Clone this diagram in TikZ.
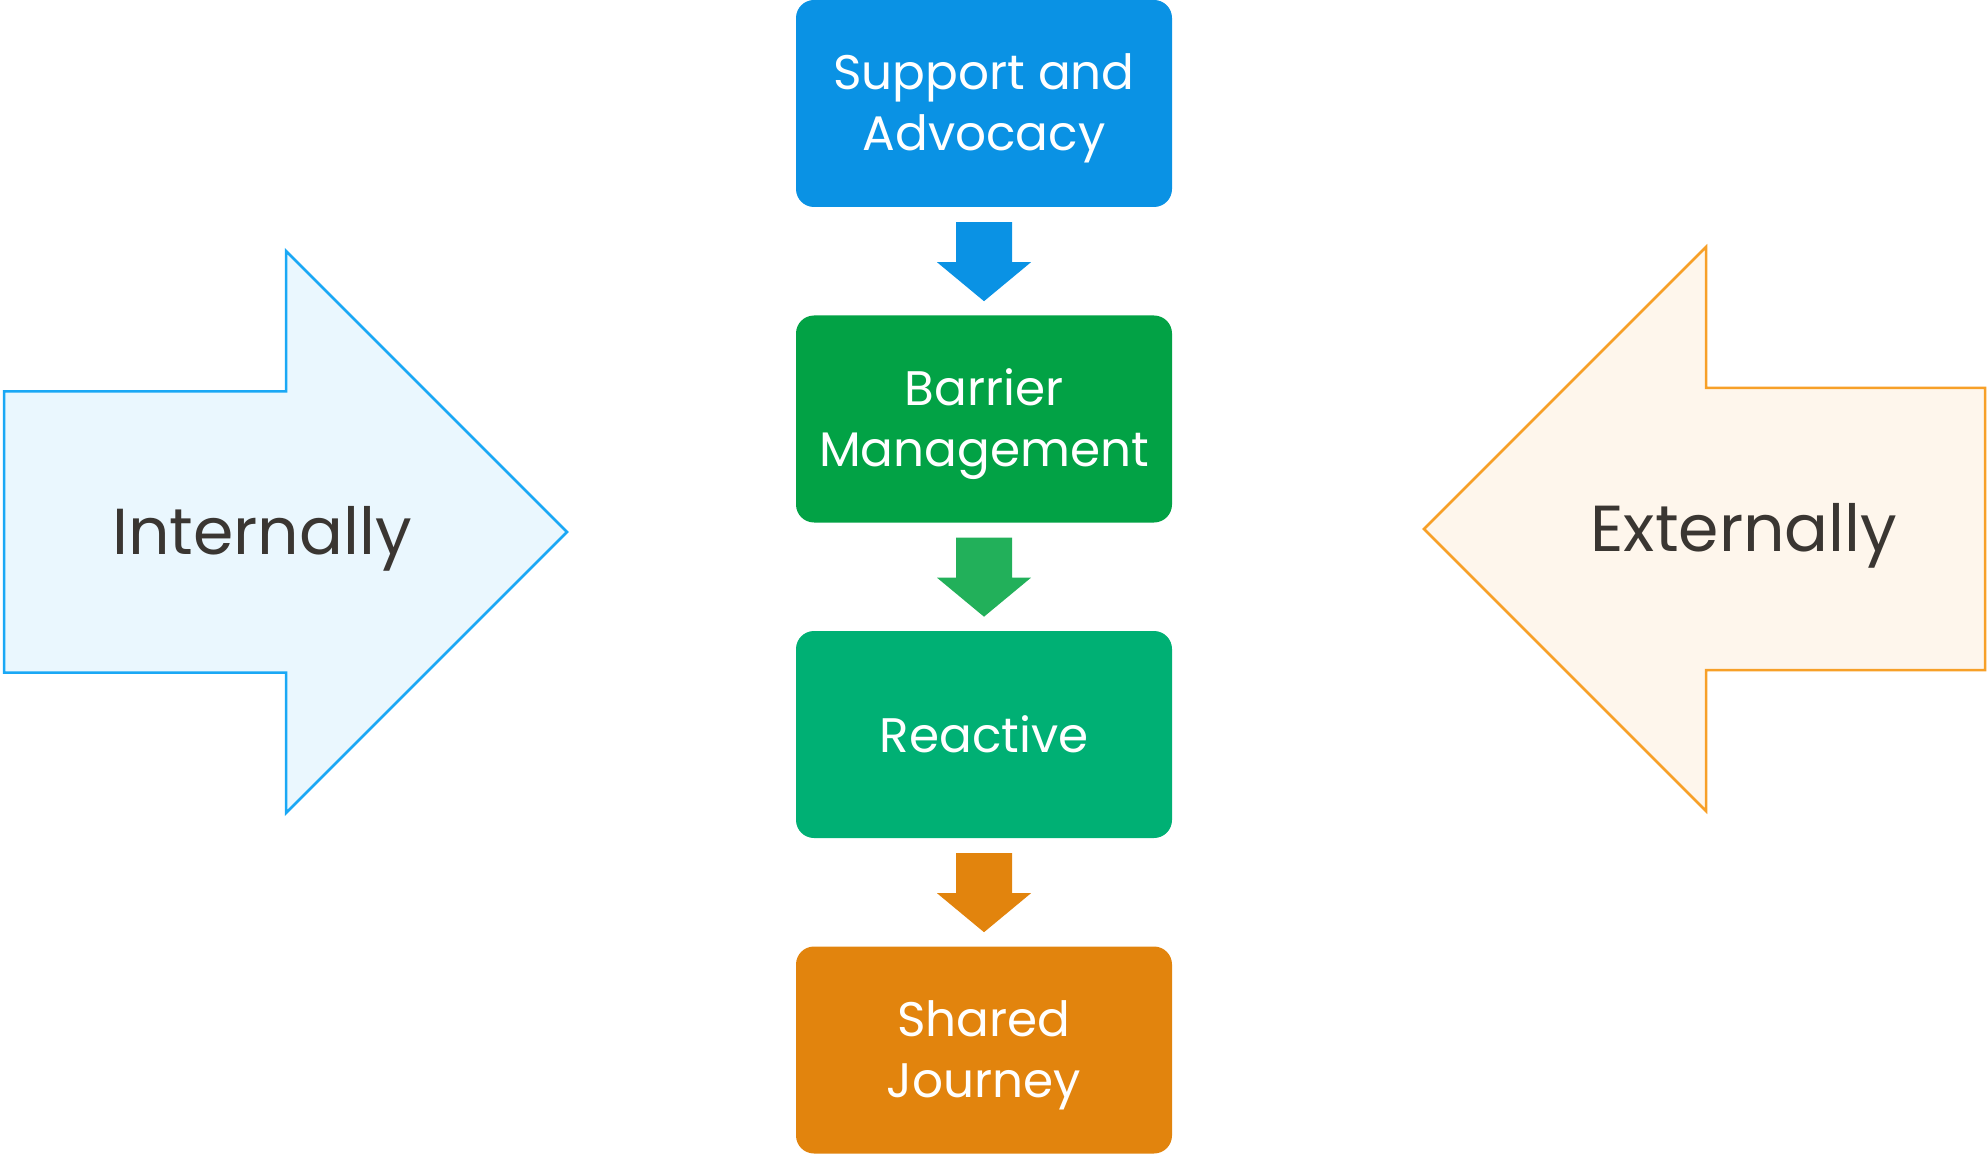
\documentclass[tikz,border=0pt]{standalone}
\usepackage{fontspec}
\setmainfont{Poppins}
\usetikzlibrary{calc}
\definecolor{cblue}{RGB}{10,146,228}
\definecolor{cgreen}{RGB}{2,162,69}
\definecolor{cteal}{RGB}{0,176,116}
\definecolor{corange}{RGB}{226,132,13}
\definecolor{carrowgreen}{RGB}{34,176,90}
\definecolor{cinfill}{RGB}{234,247,254}
\definecolor{cinline}{RGB}{26,168,245}
\definecolor{cexfill}{RGB}{254,246,236}
\definecolor{cexline}{RGB}{247,160,40}
\definecolor{ctext}{RGB}{58,54,50}
\begin{document}
\begin{tikzpicture}[x=1pt,y=-1pt,
  stage/.style={rounded corners=18pt, minimum width=376pt, minimum height=207pt, inner sep=0pt},
  stagetext/.style={inner sep=0pt, text=white, align=center, font=\fontsize{48.5}{61}\selectfont},
  sidelabel/.style={text=ctext, anchor=base, inner sep=0pt, font=\fontsize{65}{70}\selectfont},
  bigarrow/.style={line width=2.5pt, line join=miter},
  flowarr/.pic={\path[pic actions] (-28,0) -- (28,0) -- (28,40) -- (47,40) -- (0,79) -- (-47,40) -- (-28,40) -- cycle;}
]
\useasboundingbox (0,0) rectangle (1987,1155);
% side arrows
\draw[bigarrow, fill=cinfill, draw=cinline] (4,391.5) -- (286,391.5) -- (286,251) -- (567,532) -- (286,813) -- (286,672.5) -- (4,672.5) -- cycle;
\node[sidelabel] (inl) at (262,554.5) {Internally};
\draw[bigarrow, fill=cexfill, draw=cexline] (1985,388) -- (1706,388) -- (1706,247) -- (1424,529) -- (1706,811) -- (1706,670) -- (1985,670) -- cycle;
\node[sidelabel] (exl) at (1744,551) {Externally};
% stages
\node[stage, fill=cblue] (s1) at (984,103.5) {};
\node[stagetext] (s1t) at ($(s1.center)+(0,5)$) {Support and\\Advocacy};
\node[stage, fill=cgreen] (s2) at (984,419) {};
\node[stagetext] (s2t) at ($(s2.center)+(0,5)$) {Barrier\\Management};
\node[stage, fill=cteal] (s3) at (984,734.5) {};
\node[stagetext] (s3t) at (s3.center) {Reactive};
\node[stage, fill=corange] (s4) at (984,1050) {};
\node[stagetext] (s4t) at ($(s4.center)+(0,5)$) {Shared\\Journey};
% flow arrows
\pic[fill=cblue] at ($(s1.south)+(0,15)$) {flowarr};
\pic[fill=carrowgreen] at ($(s2.south)+(0,15)$) {flowarr};
\pic[fill=corange] at ($(s3.south)+(0,15)$) {flowarr};
\end{tikzpicture}
\end{document}
